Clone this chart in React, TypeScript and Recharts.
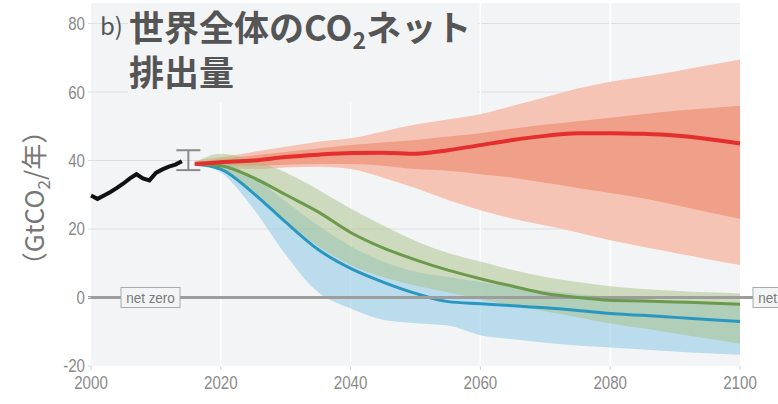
import {
  ComposedChart, Area, Line, Scatter, ErrorBar, XAxis, YAxis,
  CartesianGrid, ReferenceLine,
} from 'recharts'

// ─── data ─────────────────────────────────────────────────────────────

// observed net CO2 (GtCO2/yr)
const histYears = [2000, 2001, 2002, 2003, 2004, 2005, 2006, 2007, 2008, 2009, 2010, 2011, 2012, 2013, 2014]
const histCO2 = [29.8, 28.8, 29.8, 30.8, 32, 33.3, 34.8, 36, 34.8, 34.2, 36.4, 37.4, 38.2, 38.8, 39.8]

// uncertainty bar on the latest year
const errYear = 2015
const errCentre = 40
const errSpread = [2.8, 3]

// scenario pathways
const projYears = [2016, 2020, 2025, 2030, 2035, 2040, 2045, 2050, 2055, 2060, 2065, 2070, 2075, 2080, 2085, 2090, 2095, 2100]

const redMedian  = [39, 39.5, 40, 41, 41.7, 42.2, 42.3, 42, 43, 44.5, 46, 47.2, 48, 48, 47.8, 47.3, 46.3, 45]
const redInnerLo = [38.8, 38.5, 38.5, 38.8, 39, 39, 38.5, 37.5, 37, 36, 35, 33.5, 32, 30.5, 29, 27, 25, 23]
const redInnerHi = [39.5, 40.5, 41.5, 42.5, 43.5, 44.5, 45.3, 46, 47, 48, 49.3, 50.5, 51.5, 52.5, 53.5, 54.5, 55.3, 56]
const redOuterLo = [38.5, 38, 37.5, 38, 38.2, 37.5, 35, 32, 28.5, 25.5, 23, 21, 19, 16.7, 14.8, 13, 11.2, 9.5]
const redOuterHi = [40, 41, 42.5, 44, 45.5, 46.5, 48.5, 50.5, 52, 53.5, 56, 58.5, 61, 63, 64.5, 66, 67.8, 69.5]

const greenMedian = [39, 38.5, 35, 30, 25, 19, 14.5, 11, 8, 5.5, 3.3, 1.2, 0, -0.8, -1, -1.3, -1.6, -2]
const greenLo     = [39, 37, 31, 22.5, 15, 9.5, 6, 3.5, 1.5, -0.5, -2.3, -4, -5.8, -7.6, -9, -10.5, -12, -13.5]
const greenHi     = [39.5, 42, 40, 36.5, 31.5, 26, 21, 16.5, 13, 10.5, 8, 6, 4.5, 3.3, 2.5, 2, 1.5, 1.2]

const blueMedian = [39, 37.5, 30.5, 22, 14, 8.5, 4.5, 1.2, -1.2, -1.8, -2.4, -3, -3.8, -4.7, -5.2, -5.8, -6.4, -7]
const blueLo     = [39, 36.5, 26, 12.5, 1.5, -3.2, -6.5, -7.5, -8.2, -11, -12.2, -13.2, -14, -14.6, -15.2, -15.8, -16.3, -16.7]
const blueHi     = [39, 39.5, 35, 28, 21, 15, 10.5, 7.5, 6, 4.5, 3, 2, 1, 0, -0.5, -1, -1.3, -1.5]

const xTicks = [2000, 2020, 2040, 2060, 2080, 2100]
const yTicks = [-20, 0, 20, 40, 60, 80]

const rows = [
  ...histYears.map((year, i) => ({ year, hist: histCO2[i] })),
  ...projYears.map((year, i) => ({
    year,
    red: redMedian[i],
    redInner: [redInnerLo[i], redInnerHi[i]],
    redOuter: [redOuterLo[i], redOuterHi[i]],
    green: greenMedian[i],
    greenBand: [greenLo[i], greenHi[i]],
    blue: blueMedian[i],
    blueBand: [blueLo[i], blueHi[i]],
  })),
]

const errRows = [{ year: errYear, value: errCentre, spread: errSpread }]

// ─── styles ───────────────────────────────────────────────────────────

const SANS = "'Liberation Sans', Arial, sans-serif"
const JP = "'Noto Sans CJK JP', 'Noto Sans', sans-serif"
const PLOT_BG = '#f3f4f5'

// axis numbers are set in a squeezed sans (no condensed face installed)
function NarrowTick({ x, y, payload, textAnchor, vertical }: {
  x?: number
  y?: number
  payload?: { value: number }
  textAnchor?: string
  vertical?: boolean
}) {
  if (x == null || y == null || !payload) return null
  return (
    <text
      transform={`translate(${x} ${y}) scale(0.84 1)`}
      textAnchor={textAnchor}
      dy={vertical ? '0.36em' : '0.72em'}
      fontSize={18}
      fill="#8a8a8a"
      fontFamily={SANS}
    >
      {payload.value}
    </text>
  )
}

// "net zero" tags at both ends of the zero line
function NetZeroTag({ viewBox }: { viewBox?: { x: number; y: number; width: number } }) {
  if (!viewBox) return null
  const { x, y, width } = viewBox
  const tag = (left: number) => (
    <g>
      <rect x={left} y={y - 10} width={59} height={20} fill={PLOT_BG} stroke="#aaaaaa" strokeWidth={1} />
      <text
        transform={`translate(${left + 29.5} ${y + 5}) scale(0.9 1)`}
        textAnchor="middle"
        fontSize={15}
        fill="#7a7a7a"
        fontFamily={SANS}
      >
        net zero
      </text>
    </g>
  )
  return (
    <g>
      <line x1={x - 3} x2={x} y1={y} y2={y} stroke="#9d9d9d" strokeWidth={3} />
      <line x1={x + width} x2={x + width + 13} y1={y} y2={y} stroke="#9d9d9d" strokeWidth={3} />
      {tag(x + 30)}
      {tag(x + width + 13)}
    </g>
  )
}

export default function App() {
  return (
    <div style={{ position: 'absolute', left: 0, top: 0, background: '#fff' }}>
      <ComposedChart
        width={778}
        height={404}
        data={rows}
        margin={{ top: 3, right: 38, bottom: 8, left: 0 }}
      >
        <CartesianGrid
          fill={PLOT_BG}
          stroke="#dcdee1"
          vertical={false}
          horizontalValues={[20, 40, 60, 80]}
        />
        <CartesianGrid
          stroke="#ffffff"
          strokeWidth={1.5}
          horizontal={false}
          verticalValues={[2020, 2040, 2060, 2080]}
        />
        <XAxis
          dataKey="year"
          type="number"
          domain={[2000, 2100]}
          ticks={xTicks}
          tick={<NarrowTick />}
          axisLine={false}
          tickLine={{ stroke: '#cfd1d4' }}
          tickSize={4}
          tickMargin={6}
          height={30}
        />
        <YAxis
          type="number"
          domain={[-20, 86]}
          ticks={yTicks}
          tick={<NarrowTick vertical />}
          axisLine={false}
          tickLine={{ stroke: '#dcdee1' }}
          tickSize={3}
          tickMargin={3}
          width={91}
        />

        <Area
          dataKey="redOuter"
          type="monotone"
          stroke="none"
          fill="#f5c4b4"
          fillOpacity={1}
          connectNulls
          isAnimationActive={false}
        />
        <Area
          dataKey="redInner"
          type="monotone"
          stroke="none"
          fill="#f09f89"
          fillOpacity={1}
          connectNulls
          isAnimationActive={false}
        />
        <Area
          dataKey="blueBand"
          type="monotone"
          stroke="none"
          fill="#8cc8e4"
          fillOpacity={0.55}
          connectNulls
          isAnimationActive={false}
        />
        <Line
          dataKey="blue"
          type="monotone"
          stroke="#2a97c0"
          strokeWidth={3}
          dot={false}
          connectNulls
          isAnimationActive={false}
        />
        <Area
          dataKey="greenBand"
          type="monotone"
          stroke="none"
          fill="#a8bf85"
          fillOpacity={0.5}
          connectNulls
          isAnimationActive={false}
        />

        <ReferenceLine
          y={0}
          stroke="#9d9d9d"
          strokeWidth={3}
          label={<NetZeroTag />}
        />

        <Line
          dataKey="green"
          type="monotone"
          stroke="#6b9a4c"
          strokeWidth={3}
          dot={false}
          connectNulls
          isAnimationActive={false}
        />
        <Line
          dataKey="red"
          type="monotone"
          stroke="#e52e2e"
          strokeWidth={4}
          dot={false}
          connectNulls
          isAnimationActive={false}
        />
        <Line
          dataKey="hist"
          type="linear"
          stroke="#111111"
          strokeWidth={4}
          dot={false}
          connectNulls
          isAnimationActive={false}
        />
        <Scatter data={errRows} dataKey="value" shape={() => <g />} isAnimationActive={false}>
          <ErrorBar dataKey="spread" direction="y" width={12} stroke="#8a8a8a" strokeWidth={2} />
        </Scatter>

        {/* title block sits on a patch of plot background */}
        <rect x={128} y={3} width={350} height={100} fill={PLOT_BG} />
        <text x={100} y={35} fontSize={24} fill="#555555" fontFamily={JP}>b)</text>
        <text x={129} y={41} fontSize={35} fontWeight={700} fill="#555555" fontFamily={JP}>
          世界全体のCO<tspan fontSize={23} dy={8}>2</tspan><tspan dy={-8}>ネット</tspan>
        </text>
        <text x={129} y={86} fontSize={35} fontWeight={700} fill="#555555" fontFamily={JP}>
          排出量
        </text>

        {/* y axis title */}
        <text
          transform="translate(44 198) rotate(-90)"
          textAnchor="middle"
          fontSize={26}
          fill="#777777"
          fontFamily={JP}
        >
          （GtCO<tspan fontSize={17} dy={6}>2</tspan><tspan dy={-6}>/年）</tspan>
        </text>
      </ComposedChart>
    </div>
  )
}
